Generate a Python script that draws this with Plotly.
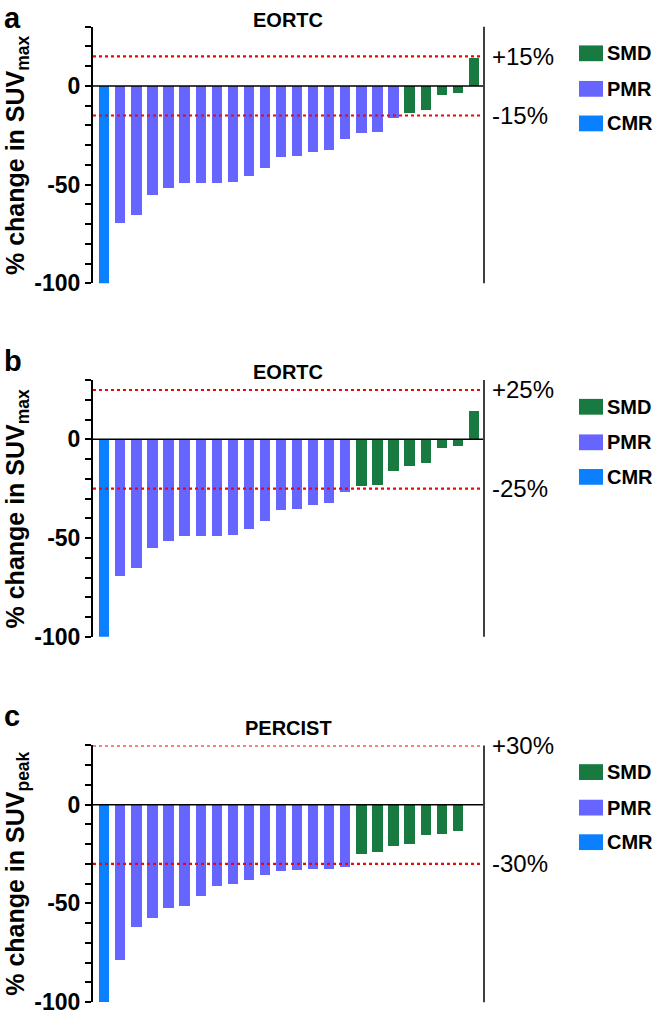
import plotly.graph_objects as go

# % change per patient (sorted waterfall)
suvmax_change = [-100, -69.4, -65.2, -54.9, -51.4, -49.1, -48.9, -48.8, -48.6, -45.4,
                 -41.4, -35.9, -35.3, -33.1, -32.3, -26.6, -23.6, -23.0, -16.0,
                 -13.5, -11.8, -4.2, -3.2, 14.5]
suvpeak_change = [-100, -78.8, -62.0, -57.8, -52.3, -51.5, -46.3, -41.2, -40.3, -38.3,
                  -35.8, -33.8, -33.3, -32.9, -32.7, -32.0, -25.0, -24.3, -21.0,
                  -20.2, -15.5, -15.2, -13.3]

# response per patient
eortc15_resp = ["CMR"] + ["PMR"] * 18 + ["SMD"] * 5
eortc25_resp = ["CMR"] + ["PMR"] * 15 + ["SMD"] * 8
percist_resp = ["CMR"] + ["PMR"] * 15 + ["SMD"] * 7

panel_letters = ["a", "b", "c"]
panel_titles = ["EORTC", "EORTC", "PERCIST"]
y_titles = ["% change in SUV<sub>max</sub>", "% change in SUV<sub>max</sub>",
            "% change in SUV<sub>peak</sub>"]
thresholds = [15, 25, 30]

categories = ["SMD", "PMR", "CMR"]
colors = {"SMD": "#187a41", "PMR": "#6666ff", "CMR": "#0a80ff"}

y_ticks = list(range(-100, 31, 10))
y_ticklabels = ["<b>%d</b>" % v if v in (0, -50, -100) else "" for v in y_ticks]

panels = [
    (suvmax_change, eortc15_resp),
    (suvmax_change, eortc25_resp),
    (suvpeak_change, percist_resp),
]

W, H = 657, 1025
FONT = "Liberation Sans, Arial, sans-serif"
px_x = lambda p: p / W
px_y = lambda p: 1 - p / H

plot_left, plot_right = 93, 484
panel_tops = [27, 385, 755]
panel_bottoms = [287, 645, 1015]
title_y = [20, 377, 737]
letter_top = [0, 347, 707]

fig = go.Figure()
shapes = []
annotations = []

for k, (values, resp) in enumerate(panels):
    sfx = "" if k == 0 else str(k + 1)
    xref, yref = "x" + sfx, "y" + sfx
    idx = list(range(len(values)))
    for cat in categories:
        xs = [i for i in idx if resp[i] == cat]
        ys = [values[i] for i in idx if resp[i] == cat]
        fig.add_trace(go.Bar(
            x=xs, y=ys, width=0.64, marker=dict(color=colors[cat], line=dict(width=0)),
            xaxis=xref, yaxis=yref, showlegend=False,
        ))

    top, bot = panel_tops[k], panel_bottoms[k]
    fig.update_layout(**{
        "xaxis" + sfx: dict(domain=[px_x(plot_left), px_x(plot_right)],
                            range=[-0.7, 23.63], visible=False, anchor=yref),
        "yaxis" + sfx: dict(domain=[px_y(bot), px_y(top)], range=[-100, 30],
                            anchor=xref, showline=True, linecolor="black", linewidth=2,
                            ticks="outside", ticklen=6, tickwidth=2, tickcolor="black",
                            tickvals=y_ticks, ticktext=y_ticklabels, showgrid=False,
                            zeroline=False,
                            tickfont=dict(family=FONT, size=23, color="black")),
    })

    thr = thresholds[k]
    # threshold lines
    for v in (thr, -thr):
        shapes.append(dict(type="line", xref=xref + " domain", yref=yref,
                           x0=0, x1=0.99, y0=v, y1=v,
                           line=dict(color="red", width=2.2, dash="dot")))
    # zero line
    shapes.append(dict(type="line", xref=xref + " domain", yref=yref,
                       x0=0, x1=1, y0=0, y1=0, line=dict(color="black", width=1.5)))
    # right boundary line
    shapes.append(dict(type="line", xref=xref + " domain", yref=yref + " domain",
                       x0=1, x1=1, y0=0, y1=1, line=dict(color="#404040", width=2)))

    for v in (thr, -thr):
        annotations.append(dict(text="%+d%%" % v, x=px_x(490), y=v, xref="paper", yref=yref,
                                xanchor="left", yanchor="middle", showarrow=False,
                                font=dict(family=FONT, size=24, color="black")))

    annotations.append(dict(text="<b>%s</b>" % panel_titles[k], x=px_x(288), y=px_y(title_y[k]),
                            xref="paper", yref="paper", xanchor="center", yanchor="middle",
                            showarrow=False, font=dict(family=FONT, size=20, color="black")))
    annotations.append(dict(text="<b>%s</b>" % panel_letters[k], x=px_x(2),
                            y=px_y(letter_top[k]), xref="paper", yref="paper",
                            xanchor="left", yanchor="top", showarrow=False,
                            font=dict(family=FONT, size=29, color="black")))
    annotations.append(dict(text="<b>%s</b>" % y_titles[k], x=px_x(17),
                            y=px_y((top + bot) / 2), xref="paper", yref="paper",
                            textangle=-90, xanchor="center", yanchor="middle", showarrow=False,
                            font=dict(family=FONT, size=25, color="black")))

    # legend
    for j, cat in enumerate(categories):
        cy = top + [27, 63, 98][j]
        shapes.append(dict(type="rect", xref="paper", yref="paper",
                           x0=px_x(579), x1=px_x(603), y0=px_y(cy + 8), y1=px_y(cy - 8),
                           fillcolor=colors[cat], line=dict(width=0)))
        annotations.append(dict(text="<b>%s</b>" % cat, x=px_x(605), y=px_y(cy),
                                xref="paper", yref="paper", xanchor="left", yanchor="middle",
                                showarrow=False, font=dict(family=FONT, size=20, color="black")))

fig.update_layout(
    width=W, height=H, autosize=False,
    margin=dict(l=0, r=0, t=0, b=0),
    paper_bgcolor="white", plot_bgcolor="white",
    barmode="overlay", bargap=0,
    shapes=shapes, annotations=annotations,
    font=dict(family=FONT, color="black"),
)

# drop the default page margin so the figure sits at the window's top-left corner
fig.write_html("out.html", config={"displayModeBar": False},
               post_script="document.body.style.margin='0';")
